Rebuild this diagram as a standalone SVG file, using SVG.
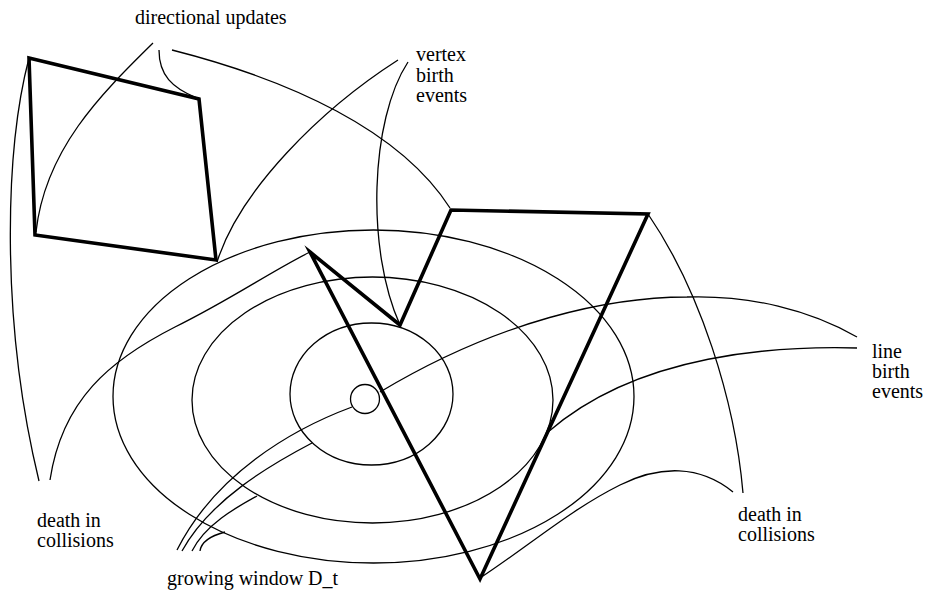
<svg xmlns="http://www.w3.org/2000/svg" width="930" height="593" viewBox="0 0 930 593">
<style>
.thin{fill:none;stroke:#000;stroke-width:1.3}
.thick{fill:none;stroke:#000;stroke-width:3.6;stroke-linejoin:miter;stroke-miterlimit:6}
.lbl{font-size:20px;fill:#000}
</style>
<rect width="930" height="593" fill="#fff"/>
<g id="windows">
<ellipse class="thin" cx="373.5" cy="396.5" rx="260.5" ry="166.5"/>
<ellipse class="thin" cx="372.5" cy="400" rx="180.5" ry="123"/>
<ellipse class="thin" cx="371.5" cy="394" rx="81.5" ry="71"/>
</g>
<g id="connectors">
<path class="thin" d="M153,43 C100,95 45,150 36,232"/>
<path class="thin" d="M159,50 C159,75 172,88 197,98"/>
<path class="thin" d="M172,50 C290,80 400,130 450,208"/>
<path class="thin" d="M398,60 C320,110 240,190 217,262"/>
<path class="thin" d="M408,62 C370,120 366,250 400,325"/>
<path class="thin" d="M648,214 C700,290 735,400 743,493"/>
<path class="thin" d="M733,492 C700,465 660,465 620,485 C570,510 530,545 480,578"/>
<path class="thin" d="M857,337 C810,310 750,295 687,297 C610,297 500,320 380,392"/>
<path class="thin" d="M857,348 C780,346 640,352 548,432"/>
<path class="thin" d="M352,407 C290,430 215,475 177,550"/>
<path class="thin" d="M312,443 C270,465 210,500 182,551"/>
<path class="thin" d="M257,496 C235,508 205,525 192,551"/>
<path class="thin" d="M200,551 C201,543 210,536 225,532"/>
<path class="thin" d="M50,480 C62,400 110,360 175,327 C230,300 270,272 310,252"/>
<path class="thin" d="M29,58 C5,150 0,320 39,481"/>
</g>
<g id="origin">
<circle class="thin" cx="365" cy="399" r="14.5" fill="#fff"/>
</g>
<g id="polygon-left">
<polygon class="thick" points="29,58 199,99 216,260 35,235"/>
</g>
<g id="polygon-right">
<polygon class="thick" points="310,252 400,325 451,210 648,214 480,579"/>
</g>
<g id="labels" font-family="'Liberation Serif', 'DejaVu Serif', serif">
<text class="lbl" x="135" y="24">directional updates</text>
<text class="lbl" x="416" y="61">vertex</text>
<text class="lbl" x="416" y="82">birth</text>
<text class="lbl" x="416" y="102">events</text>
<text class="lbl" x="872" y="358">line</text>
<text class="lbl" x="872" y="378">birth</text>
<text class="lbl" x="872" y="398">events</text>
<text class="lbl" x="37" y="527">death in</text>
<text class="lbl" x="37" y="547">collisions</text>
<text class="lbl" x="738" y="521">death in</text>
<text class="lbl" x="738" y="541">collisions</text>
<text class="lbl" x="167" y="585">growing window D_t</text>
</g>
</svg>
